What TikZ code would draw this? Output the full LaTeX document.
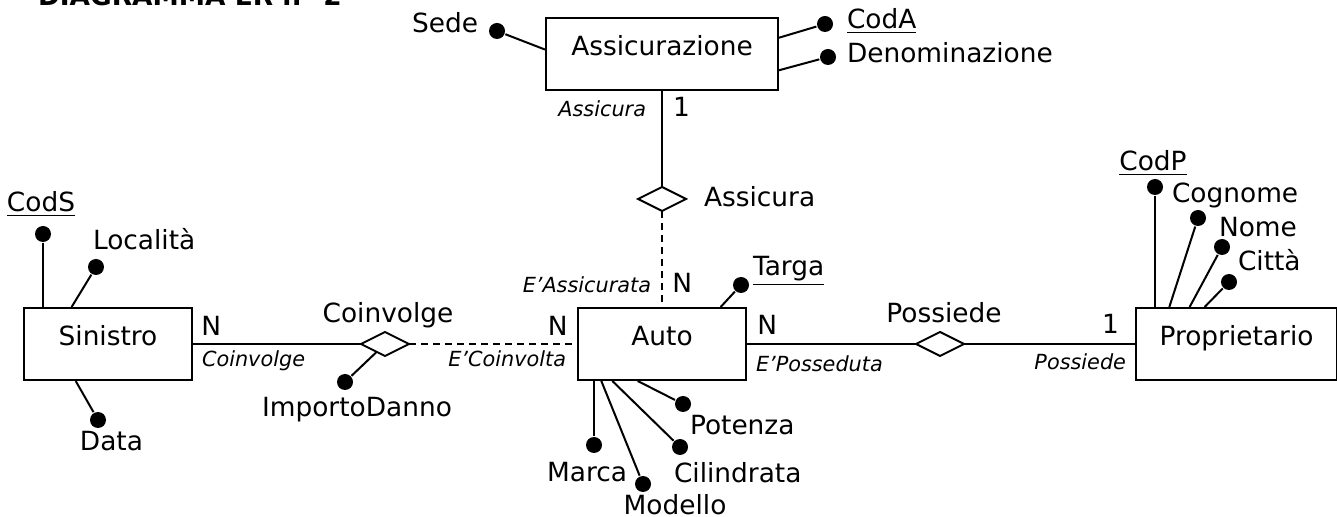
\documentclass[tikz,border=0pt]{standalone}
\usepackage{fontspec}
\setmainfont{DejaVu Sans}
\usepackage{tikz}
\usetikzlibrary{positioning,shapes.geometric,calc}

\newcommand{\mainsize}{\fontsize{13.2pt}{15pt}\selectfont}
\newcommand{\rolesize}{\fontsize{10.4pt}{12pt}\selectfont\itshape}

\begin{document}
\begin{tikzpicture}[
    x=0.5pt, y=-0.5pt, line width=1pt,
    entity/.style={rectangle, draw, minimum height=36pt, text height=9pt, text depth=7.5pt, font=\mainsize},
    rel/.style={diamond, draw, minimum width=24pt, minimum height=12pt, inner sep=0pt, outer sep=0pt},
    attr/.style={circle, fill, minimum size=8pt, inner sep=0pt},
    lbl/.style={inner sep=1pt, font=\mainsize},
    card/.style={inner sep=1pt, font=\mainsize},
    role/.style={inner sep=1pt, font=\rolesize},
    title/.style={inner sep=1pt, font=\mainsize\bfseries},
    weak/.style={dash pattern=on 3.5pt off 2.5pt}
]
    \useasboundingbox (0,0) rectangle (1337,517);
    \clip (0,0) rectangle (1337,517);

    \node[title, anchor=base west] (title) at (35,6) {DIAGRAMMA ER n° 2};

    % Entities and relationships
    \node[entity, minimum width=84pt] (auto) at (662,344) {Auto};
    \node[rel, above=48pt of auto] (assicura) {};
    \node[entity, minimum width=116pt, above=48pt of assicura] (assic) {Assicurazione};
    \node[rel, left=84pt of auto] (coinv) {};
    \node[entity, minimum width=84pt, left=84pt of coinv] (sin) {Sinistro};
    \node[rel, right=84.5pt of auto] (poss) {};
    \node[entity, minimum width=100.5pt, right=85.5pt of poss] (prop) {Proprietario};

    \node[lbl, right=7.5pt of assicura, anchor=base west, yshift=-4pt] (assicuraL) {Assicura};
    \node[lbl, above=4.5pt of coinv, anchor=base, xshift=1.5pt] (coinvL) {Coinvolge};
    \node[lbl, above=4.5pt of poss, anchor=base, xshift=2pt] (possL) {Possiede};

    % Links
    \draw (assic.south) -- (assicura.north);
    \draw[weak] (assicura.south) -- (auto.north);
    \draw (sin.east) -- (coinv.west);
    \draw[weak] (coinv.east) -- (auto.west);
    \draw (auto.east) -- (poss.west);
    \draw (poss.east) -- (prop.west);

    % Cardinalities and roles
    \node[role, below=13pt of assic.south, anchor=base east, xshift=-6.5pt] (assicRole) {Assicura};
    \node[card, below=13pt of assic.south, anchor=base west, xshift=4pt] (assicCard) {1};
    \node[role, above=7pt of auto.north, anchor=base east, xshift=-4pt] (autoRoleA) {E’Assicurata};
    \node[card, above=7pt of auto.north, anchor=base west, xshift=3.7pt] (autoCardA) {N};
    \node[card, right=2.7pt of sin.east, anchor=base west, yshift=4pt] (sinCard) {N};
    \node[role, right=3pt of sin.east, anchor=base west, yshift=-11.5pt] (sinRole) {Coinvolge};
    \node[card, left=3.2pt of auto.west, anchor=base east, yshift=4pt] (autoCardC) {N};
    \node[role, left=4pt of auto.west, anchor=base east, yshift=-11.5pt] (autoRoleC) {E’Coinvolta};
    \node[card, right=3.7pt of auto.east, anchor=base west, yshift=4.5pt] (autoCardP) {N};
    \node[role, right=3pt of auto.east, anchor=base west, yshift=-14pt] (autoRoleP) {E’Posseduta};
    \node[card, left=6.5pt of prop.west, anchor=base east, yshift=5pt] (propCard) {1};
    \node[role, left=3pt of prop.west, anchor=base east, yshift=-13pt] (propRole) {Possiede};

    % Attributes of Assicurazione
    \node[attr] (sede) at (497,31) {};
    \node[attr] (coda) at (825,24) {};
    \node[attr] (denom) at (828,57) {};
    \draw (sede) -- ($(assic.north west)!0.44!(assic.south west)$);
    \draw (coda) -- ($(assic.north east)!0.28!(assic.south east)$);
    \draw (denom) -- ($(assic.north east)!0.72!(assic.south east)$);
    \node[lbl, left=3.5pt of sede, anchor=base east, yshift=-1pt] (sedeL) {Sede};
    \node[lbl, right=5pt of coda, anchor=base west, yshift=-2.5pt] (codaL) {\underline{CodA}};
    \node[lbl, right=3.5pt of denom, anchor=base west, yshift=-3pt] (denomL) {Denominazione};

    % Attributes of Auto
    \node[attr] (targa) at (741,285) {};
    \node[attr] (marca) at (594,445) {};
    \node[attr] (modello) at (643,484) {};
    \node[attr] (cilindrata) at (680,447) {};
    \node[attr] (potenza) at (683,404) {};
    \draw (targa) -- ($(auto.north west)!0.845!(auto.north east)$);
    \draw (marca) -- (marca |- auto.south);
    \draw (modello) -- ($(auto.south west)!0.143!(auto.south east)$);
    \draw (cilindrata) -- ($(auto.south west)!0.208!(auto.south east)$);
    \draw (potenza) -- ($(auto.south west)!0.357!(auto.south east)$);
    \node[lbl, right=0pt of targa, anchor=base west, yshift=4.5pt] (targaL) {\underline{Targa}};
    \node[lbl, below=13.5pt of marca, anchor=base, xshift=-3.5pt] (marcaL) {Marca};
    \node[lbl, below=10.5pt of modello, anchor=base, xshift=16pt] (modelloL) {Modello};
    \node[lbl, below=13pt of cilindrata, anchor=base west, xshift=-4.5pt] (cilindrataL) {Cilindrata};
    \node[lbl, below=11pt of potenza, anchor=base west, xshift=2pt] (potenzaL) {Potenza};

    % Attributes of Sinistro and Coinvolge
    \node[attr] (cods) at (43,234) {};
    \node[attr] (localita) at (96,267) {};
    \node[attr] (data) at (98,420) {};
    \node[attr] (importo) at (345,382) {};
    \draw (cods) -- (cods |- sin.north);
    \draw (localita) -- ($(sin.north west)!0.286!(sin.north east)$);
    \draw (data) -- ($(sin.south west)!0.31!(sin.south east)$);
    \draw (importo) -- (coinv);
    \node[lbl, above=6.5pt of cods, anchor=base, xshift=-1pt] (codsL) {\underline{CodS}};
    \node[lbl, above=4pt of localita, anchor=base west, xshift=-3pt] (localitaL) {Località};
    \node[lbl, below=11pt of data, anchor=base, xshift=6.75pt] (dataL) {Data};
    \node[lbl, below=13pt of importo, anchor=base, xshift=6pt] (importoL) {ImportoDanno};

    % Attributes of Proprietario
    \node[attr] (codp) at (1155,187) {};
    \node[attr] (cognome) at (1198,218) {};
    \node[attr] (nome) at (1222,247) {};
    \node[attr] (citta) at (1229,282) {};
    \draw (codp) -- (codp |- prop.north);
    \draw (cognome) -- ($(prop.north west)!0.169!(prop.north east)$);
    \draw (nome) -- ($(prop.north west)!0.269!(prop.north east)$);
    \draw (citta) -- ($(prop.north west)!0.343!(prop.north east)$);
    \node[lbl, above=3.5pt of codp, anchor=base, xshift=-1pt] (codpL) {\underline{CodP}};
    \node[lbl, above=3pt of cognome, anchor=base west, xshift=-14.5pt] (cognomeL) {Cognome};
    \node[lbl, above=0.5pt of nome, anchor=base west, xshift=-3pt] (nomeL) {Nome};
    \node[lbl, above=1pt of citta, anchor=base west, xshift=3pt] (cittaL) {Città};
\end{tikzpicture}
\end{document}
